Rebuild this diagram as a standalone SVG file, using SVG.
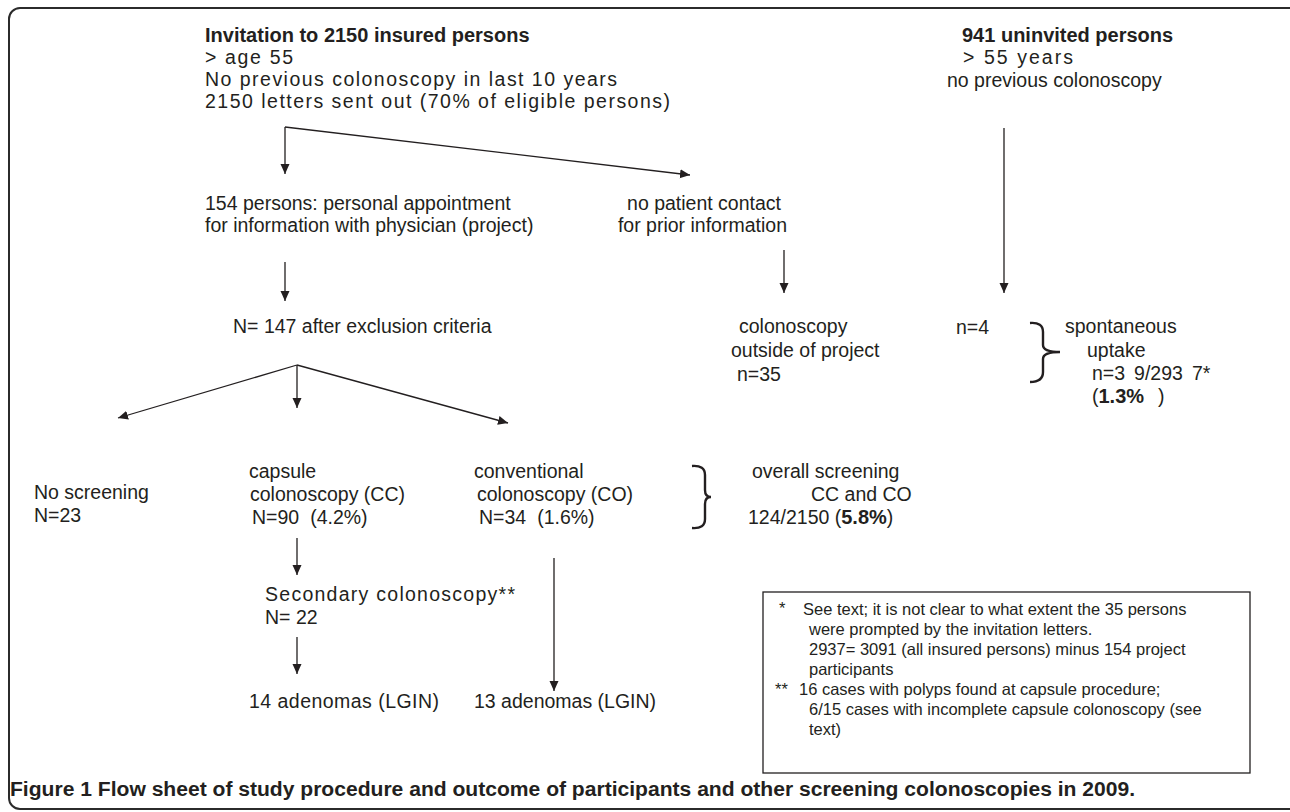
<svg xmlns="http://www.w3.org/2000/svg" width="1290" height="812" viewBox="0 0 1290 812">
<style>
text{font-family:"Liberation Sans",Arial,sans-serif;fill:#231f20;font-size:19.5px}
.b{font-weight:bold;font-size:20px}
.fn{font-size:16.5px}
.cap{font-family:"Liberation Sans Narrow","Liberation Sans",sans-serif;font-weight:bold;font-size:20px}
.ln{stroke:#231f20;stroke-width:1.3;fill:none}
.br{stroke:#231f20;stroke-width:2.4;fill:none}
</style>
<defs>
<marker id="ah" viewBox="0 0 10 10" refX="10" refY="5" markerWidth="10" markerHeight="10" markerUnits="userSpaceOnUse" orient="auto">
<path d="M0,0.5 L10,5 L0,9.5 z" fill="#231f20"/>
</marker>
</defs>
<rect x="9" y="8" width="1300" height="801" rx="11" fill="none" stroke="#2b2b2b" stroke-width="2"/>

<g id="connectors">
<line class="ln" x1="285" y1="127" x2="285" y2="174" marker-end="url(#ah)"/>
<line class="ln" x1="285" y1="127" x2="690" y2="175" marker-end="url(#ah)"/>
<line class="ln" x1="1004" y1="128" x2="1004" y2="293" marker-end="url(#ah)"/>
<line class="ln" x1="285" y1="262" x2="285" y2="301" marker-end="url(#ah)"/>
<line class="ln" x1="784" y1="250" x2="784" y2="293" marker-end="url(#ah)"/>
<line class="ln" x1="297" y1="365" x2="118" y2="418" marker-end="url(#ah)"/>
<line class="ln" x1="297" y1="365" x2="297" y2="408" marker-end="url(#ah)"/>
<line class="ln" x1="297" y1="365" x2="508" y2="423" marker-end="url(#ah)"/>
<line class="ln" x1="297" y1="538" x2="297" y2="575" marker-end="url(#ah)"/>
<line class="ln" x1="297" y1="637" x2="297" y2="674" marker-end="url(#ah)"/>
<line class="ln" x1="554" y1="558" x2="554" y2="691" marker-end="url(#ah)"/>
</g>

<g id="invitation">
<text class="b" x="205" y="42">Invitation to 2150 insured persons</text>
<text x="205" y="64" textLength="88" lengthAdjust="spacing">&gt; age 55</text>
<text x="205" y="86" textLength="412" lengthAdjust="spacing">No previous colonoscopy in last 10 years</text>
<text x="205" y="108" textLength="465" lengthAdjust="spacing">2150 letters sent out (70% of eligible persons)</text>
</g>

<g id="uninvited">
<text class="b" x="962" y="42">941 uninvited persons</text>
<text x="963" y="64" textLength="110" lengthAdjust="spacing">&gt; 55 years</text>
<text x="947" y="87">no previous colonoscopy</text>
</g>

<g id="appointment">
<text x="205" y="210">154 persons: personal appointment</text>
<text x="205" y="232">for information with physician (project)</text>
</g>

<g id="nocontact">
<text x="781" y="210" text-anchor="end">no patient contact</text>
<text x="787" y="232" text-anchor="end">for prior information</text>
</g>

<g id="n147">
<text x="233" y="333">N= 147 after exclusion criteria</text>
</g>

<g id="outside">
<text x="739" y="333">colonoscopy</text>
<text x="731" y="357">outside of project</text>
<text x="737" y="381">n=35</text>
</g>

<g id="n4">
<text x="956" y="334">n=4</text>
</g>

<g id="spontaneous">
<path class="br" d="M1030,323 Q1043,322 1043,332 L1043,345 Q1043,352 1060,352 Q1043,352 1043,359 L1043,372 Q1043,382 1030,382"/>
<text x="1065" y="333">spontaneous</text>
<text x="1087" y="357">uptake</text>
<text x="1092" y="380">n=3<tspan dx="9">9/293</tspan><tspan dx="9">7*</tspan></text>
<text x="1092" y="403">(<tspan class="b">1.3%</tspan><tspan dx="14">)</tspan></text>
</g>

<g id="noscreening">
<text x="34" y="499">No screening</text>
<text x="34" y="522">N=23</text>
</g>

<g id="capsule">
<text x="249" y="478">capsule</text>
<text x="250" y="501">colonoscopy (CC)</text>
<text x="252" y="524">N=90<tspan dx="11">(4.2%)</tspan></text>
</g>

<g id="conventional">
<text x="474" y="478">conventional</text>
<text x="477" y="501">colonoscopy (CO)</text>
<text x="479" y="524">N=34<tspan dx="11">(1.6%)</tspan></text>
</g>

<g id="overall">
<path class="br" d="M692,466 Q705,465 705,475 L705,490 Q705,497 711,497 Q705,497 705,504 L705,519 Q705,529 692,528"/>
<text x="752" y="478">overall screening</text>
<text x="811" y="501">CC and CO</text>
<text x="748" y="524">124/2150 (<tspan class="b">5.8%</tspan>)</text>
</g>

<g id="secondary">
<text x="265" y="601" textLength="250" lengthAdjust="spacing">Secondary colonoscopy**</text>
<text x="265" y="624">N= 22</text>
</g>

<g id="adenomas14">
<text x="249" y="708" textLength="190" lengthAdjust="spacing">14 adenomas (LGIN)</text>
</g>

<g id="adenomas13">
<text x="474" y="708">13 adenomas (LGIN)</text>
</g>

<g id="footnotes">
<rect x="763" y="592" width="487" height="181" fill="none" stroke="#231f20" stroke-width="1.3"/>
<text class="fn" x="779" y="614">*</text>
<text class="fn" x="803" y="615">See text; it is not clear to what extent the 35 persons</text>
<text class="fn" x="809" y="635">were prompted by the invitation letters.</text>
<text class="fn" x="809" y="655">2937= 3091 (all insured persons) minus 154 project</text>
<text class="fn" x="809" y="675">participants</text>
<text class="fn" x="775" y="695">**</text>
<text class="fn" x="799" y="695">16 cases with polyps found at capsule procedure;</text>
<text class="fn" x="809" y="715">6/15 cases with incomplete capsule colonoscopy (see</text>
<text class="fn" x="809" y="735">text)</text>
</g>

<text class="cap" x="10" y="796" textLength="1125" lengthAdjust="spacingAndGlyphs">Figure 1 Flow sheet of study procedure and outcome of participants and other screening colonoscopies in 2009.</text>
</svg>
